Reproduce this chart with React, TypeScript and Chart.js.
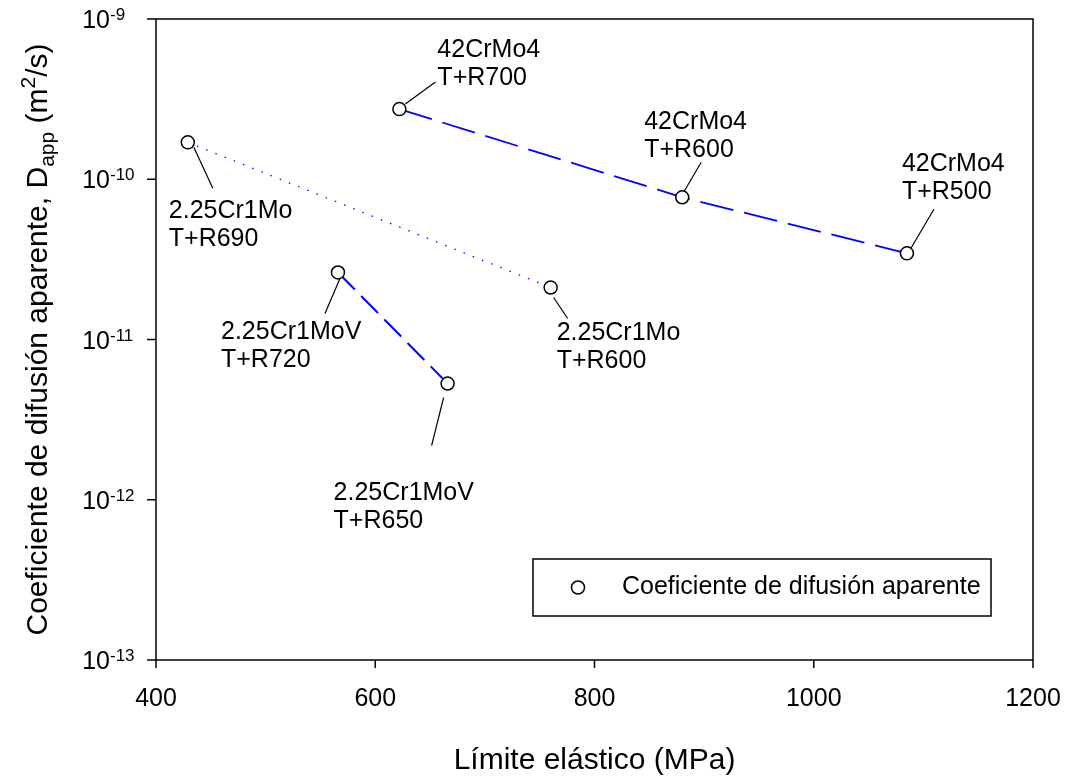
import { useEffect, useRef } from "react";
import { Chart, registerables } from "chart.js";

Chart.register(...registerables);

const FONT = '"Liberation Sans", Arial, Helvetica, sans-serif';
const BLUE = "#0000ff";

// 42CrMo4: yield strength (MPa) and apparent diffusion coefficient (m²/s)
const crMo4Yield = [622, 880, 1085];
const crMo4Dapp = [2.74e-10, 7.72e-11, 3.45e-11];
const crMo4Treat = ["T+R700", "T+R600", "T+R500"];

// 2.25Cr1Mo
const cr1MoYield = [429, 760];
const cr1MoDapp = [1.7e-10, 2.11e-11];
const cr1MoTreat = ["T+R690", "T+R600"];

// 2.25Cr1MoV
const cr1MoVYield = [566, 666];
const cr1MoVDapp = [2.62e-11, 5.31e-12];
const cr1MoVTreat = ["T+R720", "T+R650"];

const xTicks = [400, 600, 800, 1000, 1200];
const yTickExponents = [-9, -10, -11, -12, -13];

const xTitle = "Límite elástico (MPa)";
const legendLabel = "Coeficiente de difusión aparente";

// Callout placement, in pixels relative to the marker:
// [leader start dx, dy, leader end dx, dy, text left dx, first text line dy]
const crMo4Callouts = [
  [6, -5, 36, -27, 38, -59],
  [2, -6, 19, -35, -38, -75],
  [4, -5, 27, -44, -5, -89],
];
const cr1MoCallouts = [
  [6, 5, 25, 46, -19, 69],
  [3, 10, 17, 31, 6, 46],
];
const cr1MoVCallouts = [
  [2, 6, -13, 41, -117, 60],
  [-4, 14, -16, 62, -114, 110],
];

const LINE_GAP = 28;

type Group = {
  name: string;
  xs: number[];
  ys: number[];
  treat: string[];
  callouts: number[][];
};

const groups: Group[] = [
  { name: "42CrMo4", xs: crMo4Yield, ys: crMo4Dapp, treat: crMo4Treat, callouts: crMo4Callouts },
  { name: "2.25Cr1Mo", xs: cr1MoYield, ys: cr1MoDapp, treat: cr1MoTreat, callouts: cr1MoCallouts },
  { name: "2.25Cr1MoV", xs: cr1MoVYield, ys: cr1MoVDapp, treat: cr1MoVTreat, callouts: cr1MoVCallouts },
];

const toPoints = (xs: number[], ys: number[]) => xs.map((x, i) => ({ x, y: ys[i] }));

function drawMarker(ctx: CanvasRenderingContext2D, x: number, y: number) {
  ctx.beginPath();
  ctx.arc(x, y, 6.5, 0, Math.PI * 2);
  ctx.fillStyle = "#fff";
  ctx.fill();
  ctx.lineWidth = 1.5;
  ctx.strokeStyle = "#000";
  ctx.stroke();
}

const decorPlugin = {
  id: "decor",
  afterDraw(chart: any) {
    const ctx: CanvasRenderingContext2D = chart.ctx;
    const { left, right, top, bottom } = chart.chartArea;
    const xs = chart.scales.x;
    const ys = chart.scales.y;
    ctx.save();

    // frame
    ctx.strokeStyle = "#000";
    ctx.lineWidth = 1.5;
    ctx.strokeRect(left, top, right - left, bottom - top);

    // x ticks and labels
    ctx.fillStyle = "#000";
    ctx.font = `25px ${FONT}`;
    ctx.textAlign = "center";
    ctx.textBaseline = "alphabetic";
    xTicks.forEach((v) => {
      const px = xs.getPixelForValue(v);
      ctx.beginPath();
      ctx.moveTo(px, bottom);
      ctx.lineTo(px, bottom + 8);
      ctx.stroke();
      ctx.fillText(String(v), px, bottom + 46);
    });

    // y ticks and labels (10 with superscript exponent)
    yTickExponents.forEach((e) => {
      const py = ys.getPixelForValue(Math.pow(10, e));
      ctx.beginPath();
      ctx.moveTo(left - 9, py);
      ctx.lineTo(left, py);
      ctx.stroke();
      ctx.font = `25px ${FONT}`;
      ctx.textAlign = "right";
      ctx.fillText("10", left - 46, py + 9);
      ctx.font = `17px ${FONT}`;
      ctx.textAlign = "left";
      ctx.fillText(String(e), left - 46, py + 1);
    });

    // x title
    ctx.font = `30px ${FONT}`;
    ctx.textAlign = "center";
    ctx.fillText(xTitle, (left + right) / 2, bottom + 109);

    // y title, rotated, with subscript and superscript
    const parts: [string, number, number][] = [
      ["Coeficiente de difusión aparente, D", 30, 0],
      ["app", 21, 7],
      [" (m", 30, 0],
      ["2", 21, -12],
      ["/s)", 30, 0],
    ];
    let total = 0;
    parts.forEach(([t, s]) => {
      ctx.font = `${s}px ${FONT}`;
      total += ctx.measureText(t).width;
    });
    ctx.translate(47, (top + bottom) / 2);
    ctx.rotate(-Math.PI / 2);
    ctx.textAlign = "left";
    let cx = -total / 2;
    parts.forEach(([t, s, dy]) => {
      ctx.font = `${s}px ${FONT}`;
      ctx.fillText(t, cx, dy);
      cx += ctx.measureText(t).width;
    });
    ctx.setTransform(1, 0, 0, 1, 0, 0);

    // callouts: leader line and two-line label
    ctx.lineWidth = 1.2;
    ctx.font = `25px ${FONT}`;
    ctx.textAlign = "left";
    ctx.textBaseline = "middle";
    groups.forEach((g) => {
      g.xs.forEach((xv, i) => {
        const px = xs.getPixelForValue(xv);
        const py = ys.getPixelForValue(g.ys[i]);
        const [sx, sy, ex, ey, tx, ty] = g.callouts[i];
        ctx.beginPath();
        ctx.moveTo(px + sx, py + sy);
        ctx.lineTo(px + ex, py + ey);
        ctx.stroke();
        ctx.fillText(g.name, px + tx, py + ty);
        ctx.fillText(g.treat[i], px + tx, py + ty + LINE_GAP);
      });
    });

    // legend box
    const lx = left + 377;
    const ly = top + 540;
    const lw = 458;
    const lh = 57;
    ctx.lineWidth = 1.5;
    ctx.strokeRect(lx, ly, lw, lh);
    drawMarker(ctx, lx + 45, ly + lh / 2);
    ctx.fillStyle = "#000";
    ctx.font = `25px ${FONT}`;
    ctx.textBaseline = "middle";
    ctx.fillText(legendLabel, lx + 89, ly + lh / 2);

    ctx.restore();
  },
};

export default function App() {
  const canvasRef = useRef<HTMLCanvasElement | null>(null);

  useEffect(() => {
    const canvas = canvasRef.current;
    if (!canvas) return;
    const allPoints = groups.flatMap((g) => toPoints(g.xs, g.ys));
    const chart = new Chart(canvas, {
      type: "scatter",
      data: {
        datasets: [
          {
            label: legendLabel,
            data: allPoints,
            pointStyle: "circle",
            pointRadius: 6.5,
            pointBorderWidth: 1.5,
            pointBackgroundColor: "#fff",
            pointBorderColor: "#000",
            showLine: false,
            order: 0,
          },
          {
            label: "42CrMo4",
            data: toPoints(crMo4Yield, crMo4Dapp),
            showLine: true,
            borderColor: BLUE,
            borderWidth: 1.8,
            borderDash: [34, 11],
            pointRadius: 0,
            order: 1,
          },
          {
            label: "2.25Cr1Mo",
            data: toPoints(cr1MoYield, cr1MoDapp),
            showLine: true,
            borderColor: BLUE,
            borderWidth: 1.3,
            borderDash: [1.5, 8.4],
            pointRadius: 0,
            order: 1,
          },
          {
            label: "2.25Cr1MoV",
            data: toPoints(cr1MoVYield, cr1MoVDapp),
            showLine: true,
            borderColor: BLUE,
            borderWidth: 2,
            borderDash: [24, 9],
            pointRadius: 0,
            order: 1,
          },
        ],
      },
      options: {
        responsive: false,
        animation: false,
        devicePixelRatio: 1,
        layout: { padding: { left: 156, top: 19, right: 33, bottom: 116 } },
        plugins: { legend: { display: false }, tooltip: { enabled: false } },
        scales: {
          x: { type: "linear", min: 400, max: 1200, display: false },
          y: { type: "logarithmic", min: 1e-13, max: 1e-9, display: false },
        },
      },
      plugins: [decorPlugin],
    });
    return () => chart.destroy();
  }, []);

  return (
    <div style={{ position: "fixed", left: 0, top: 0, width: 1066, height: 776, background: "#fff" }}>
      <canvas ref={canvasRef} width={1066} height={776} style={{ width: 1066, height: 776 }} />
    </div>
  );
}
